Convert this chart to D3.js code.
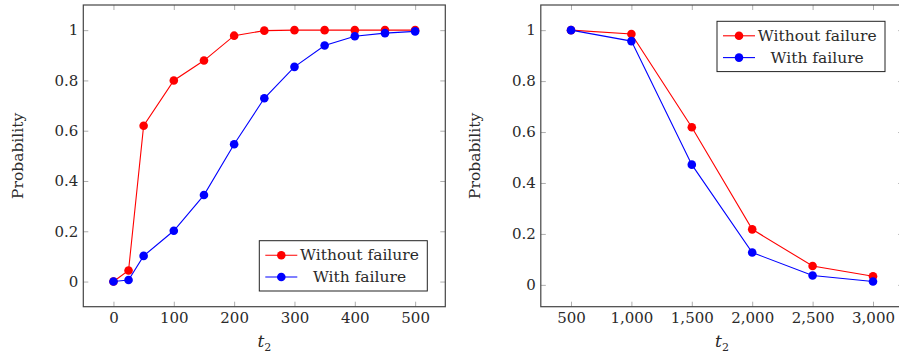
<!DOCTYPE html>
<html>
<head>
<meta charset="utf-8">
<script src="https://cdn.jsdelivr.net/npm/d3@7"></script>
<style>
  body { margin: 0; background: #fff; }
</style>
</head>
<body>
<svg id="chart" width="899" height="358"></svg>
<script>
// left panel data
const t2Short = [0, 25, 50, 100, 150, 200, 250, 300, 350, 400, 450, 500];
const shortNoFail = [0, 0.044, 0.62, 0.80, 0.879, 0.978, 0.998, 1, 1, 1, 1, 1];
const shortFail = [0, 0.006, 0.102, 0.202, 0.344, 0.546, 0.729, 0.854, 0.939, 0.976, 0.988, 0.995];
const shortXTicks = [0, 100, 200, 300, 400, 500];

// right panel data
const t2Long = [500, 1000, 1500, 2000, 2500, 3000];
const longNoFail = [1, 0.985, 0.619, 0.218, 0.074, 0.034];
const longFail = [1, 0.957, 0.472, 0.127, 0.037, 0.013];
const longXTicks = [500, 1000, 1500, 2000, 2500, 3000];

const yTicks = [0, 0.2, 0.4, 0.6, 0.8, 1];
const seriesNames = ["Without failure", "With failure"];
const seriesColors = ["#ff0000", "#0000ff"];

const FONT = "DejaVu Serif";

const svg = d3.select("#chart");

// pgfplots style: enlarge limits by 10% of the data range
function enlarged(vals) {
  const [lo, hi] = d3.extent(vals);
  const pad = (hi - lo) * 0.1;
  return [lo - pad, hi + pad];
}

const panels = [
  {
    x: t2Short, ys: [shortNoFail, shortFail], xTicks: shortXTicks,
    left: 83.3, right: 445.3, fmt: d => d,
    legendX: 259.3, legendY: 240.7, labelX: 18
  },
  {
    x: t2Long, ys: [longNoFail, longFail], xTicks: longXTicks,
    left: 540.8, right: 903.2, fmt: d3.format(","),
    legendX: 717, legendY: 21.3, labelX: 475
  }
];

const plotTop = 5, plotBottom = 306.7;

panels.forEach(p => {
  const g = svg.append("g");
  const xScale = d3.scaleLinear().domain(enlarged(p.x)).range([p.left, p.right]);
  const yScale = d3.scaleLinear().domain(enlarged(p.ys[0].concat(p.ys[1]))).range([plotBottom, plotTop]);

  // ticks, inside on all four sides
  const xb = g.append("g").attr("transform", `translate(0,${plotBottom})`)
    .call(d3.axisBottom(xScale).tickValues(p.xTicks).tickSize(-5).tickPadding(6).tickFormat(p.fmt));
  const xt = g.append("g").attr("transform", `translate(0,${plotTop})`)
    .call(d3.axisTop(xScale).tickValues(p.xTicks).tickSize(-5).tickFormat(""));
  const yl = g.append("g").attr("transform", `translate(${p.left},0)`)
    .call(d3.axisLeft(yScale).tickValues(yTicks).tickSize(-5).tickPadding(5).tickFormat(d => +d.toFixed(1)));
  const yr = g.append("g").attr("transform", `translate(${p.right},0)`)
    .call(d3.axisRight(yScale).tickValues(yTicks).tickSize(-5).tickFormat(""));

  [xb, xt, yl, yr].forEach(a => {
    a.attr("font-family", FONT).attr("font-size", 15);
    a.select(".domain").remove();
    a.selectAll(".tick line").attr("stroke", "#999").attr("stroke-width", 0.8);
    a.selectAll(".tick text").attr("fill", "#2a2a2a");
  });

  // frame
  g.append("rect")
    .attr("x", p.left).attr("y", plotTop)
    .attr("width", p.right - p.left).attr("height", plotBottom - plotTop)
    .attr("fill", "none").attr("stroke", "#444").attr("stroke-width", 1.2);

  // series
  const line = d3.line().x((d, i) => xScale(p.x[i])).y(d => yScale(d));
  p.ys.forEach((vals, s) => {
    g.append("path").datum(vals)
      .attr("d", line)
      .attr("fill", "none")
      .attr("stroke", seriesColors[s])
      .attr("stroke-width", 1.1);
    g.selectAll(null).data(vals).join("circle")
      .attr("cx", (d, i) => xScale(p.x[i]))
      .attr("cy", d => yScale(d))
      .attr("r", 4.3)
      .attr("fill", seriesColors[s]);
  });

  // axis labels
  const xl = g.append("text")
    .attr("x", (p.left + p.right) / 2).attr("y", 347)
    .attr("text-anchor", "middle")
    .attr("fill", "#2a2a2a")
    .attr("font-family", FONT)
    .attr("font-size", 17);
  xl.append("tspan").attr("font-style", "italic").text("t");
  xl.append("tspan").attr("dy", 4).attr("font-size", 11).text("2");

  g.append("text")
    .attr("transform", `translate(${p.labelX},${(plotTop + plotBottom) / 2}) rotate(-90)`)
    .attr("text-anchor", "middle")
    .attr("dominant-baseline", "central")
    .attr("fill", "#2a2a2a")
    .attr("font-family", FONT)
    .attr("font-size", 15.5)
    .text("Probability");

  // legend
  const lw = 168, lh = 50.3;
  const lg = g.append("g").attr("transform", `translate(${p.legendX},${p.legendY})`);
  lg.append("rect").attr("width", lw).attr("height", lh)
    .attr("fill", "#fff").attr("stroke", "#222").attr("stroke-width", 1);
  seriesNames.forEach((name, s) => {
    const cy = 14.5 + s * 21.8;
    lg.append("line").attr("x1", 6).attr("x2", 38).attr("y1", cy).attr("y2", cy)
      .attr("stroke", seriesColors[s]).attr("stroke-width", 1.1);
    lg.append("circle").attr("cx", 22).attr("cy", cy).attr("r", 4.3).attr("fill", seriesColors[s]);
    lg.append("text").attr("x", 100.2).attr("y", cy)
      .attr("text-anchor", "middle")
      .attr("dominant-baseline", "central")
      .attr("fill", "#2a2a2a")
      .attr("font-family", FONT)
      .attr("font-size", 15.5)
      .text(name);
  });
});
</script>
</body>
</html>
